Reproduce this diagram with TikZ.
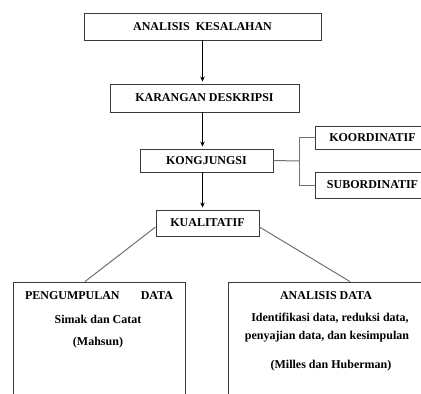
\documentclass[tikz,border=0pt]{standalone}
\usepackage{fontspec}
\setmainfont{Liberation Serif}
\usetikzlibrary{arrows.meta}
\definecolor{boxline}{HTML}{3A3A3A}
\definecolor{connline}{HTML}{707070}
\begin{document}
\begin{tikzpicture}[x=1pt,y=-1pt,
  font=\fontsize{12}{14}\selectfont\bfseries,
  box/.style={draw=boxline,line width=0.9pt,inner sep=0pt,anchor=center},
  txt/.style={inner sep=0pt,anchor=center},
  arr/.style={draw=black,line width=0.8pt,-{Stealth[length=5pt,width=4.5pt]},shorten >=2pt},
  conn/.style={draw=connline,line width=1pt}]
\useasboundingbox (0,0) rectangle (421,394);
\clip (0,0) rectangle (421,394);
\node[box,minimum width=237pt,minimum height=27pt] (ak) at (202.5,26.5) {ANALISIS\ \ KESALAHAN};
\node[box,minimum width=189pt,minimum height=28pt] (kd) at (204.5,98) {KARANGAN\ DESKRIPSI};
\node[box,minimum width=133pt,minimum height=23pt] (kj) at (206.5,160.5) {KONGJUNGSI};
\node[box,minimum width=115pt,minimum height=23pt] (ko) at (372.5,137.5) {KOORDINATIF};
\node[box,minimum width=115pt,minimum height=26pt] (su) at (372.5,185) {SUBORDINATIF};
\node[box,minimum width=103pt,minimum height=26pt] (ku) at (207.5,223) {KUALITATIF};
\node[box,minimum width=172pt,minimum height=128pt] (pd) at (99,346) {};
\node[box,minimum width=202pt,minimum height=128pt] (ad) at (329,346) {};
\node[txt,text width=148pt] (t1) at (99,296) {PENGUMPULAN\hfill DATA};
\node[txt] (t2) at (98,319) {Simak dan Catat};
\node[txt] (t3) at (98,343) {(Mahsun)};
\node[txt] (t4) at (326,295.5) {ANALISIS DATA};
\node[txt] (t5) at (330,318) {Identifikasi data, reduksi data,};
\node[txt] (t6) at (327,337) {penyajian data, dan kesimpulan};
\node[txt] (t7) at (331,366) {(Milles dan Huberman)};
\coordinate (bx) at (299,161);
\draw[arr] (ak.south) -- (ak.south |- kd.north);
\draw[arr] (kd.south -| ak.south) -- (kj.north -| ak.south);
\draw[arr] (kj.south -| ak.south) -- (ku.north -| ak.south);
\draw[conn] (kj.east) -- (bx);
\draw[conn] (ko.west) -| (bx);
\draw[conn] (su.west) -| (bx);
\draw[conn] ([yshift=-4pt]ku.west) -- ([xshift=-14pt]pd.north);
\draw[conn] ([yshift=-4pt]ku.east) -- ([xshift=21pt]ad.north);
\end{tikzpicture}
\end{document}
